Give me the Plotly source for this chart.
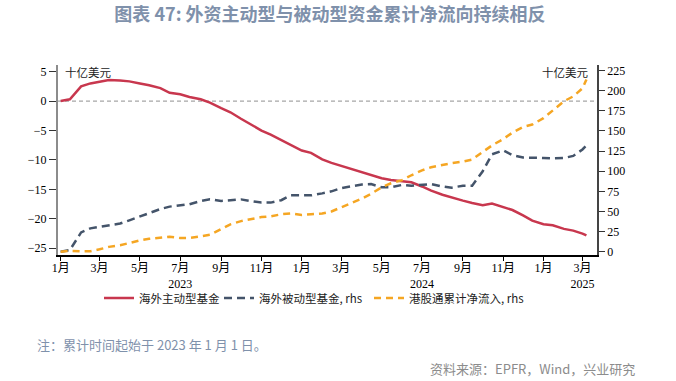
import pandas as pd
import plotly.graph_objects as go

# ---------------- data ----------------
dates = list(pd.date_range("2023-01-01", "2025-03-01", freq="SMS").strftime("%Y-%m-%d")) + ["2025-03-07"]

active_funds = [0, 0.3, 2.5, 3.0, 3.3, 3.6, 3.5, 3.35, 3.0, 2.7,
                2.2, 1.4, 1.15, 0.7, 0.3, -0.25, -1.2, -1.9, -3.0, -3.9,
                -5.0, -5.7, -6.6, -7.5, -8.4, -8.8, -9.9, -10.5, -11.0, -11.4,
                -12.0, -12.5, -13.1, -13.4, -13.6, -13.8, -14.5, -15.2, -15.9, -16.4,
                -16.9, -17.3, -17.7, -17.4, -18.0, -18.5, -19.4, -20.3, -20.9, -21.1,
                -21.7, -22.0, -22.5, -22.8]

passive_funds = [0, 2, 24, 29, 31, 33, 35, 39, 44, 48,
                 53, 56, 58, 59, 63, 65, 63, 64, 65, 63,
                 61, 61, 64, 70, 70.5, 70, 72.5, 75, 79, 81,
                 83.5, 84, 80, 80, 83, 82, 83, 84, 81, 79.6,
                 82, 82, 100, 121, 126, 120, 117, 117, 116.5, 116,
                 116.5, 119, 127, 132]

southbound = [0, 1, 0.5, 0.5, 3, 6, 8, 11, 14, 16,
              17.5, 18.7, 17, 17, 19, 21, 28, 34, 38, 40.5,
              43, 44, 46.5, 47.5, 45.6, 46.5, 47.5, 50, 55, 60,
              66, 72, 80, 85, 89, 95, 101, 105, 108, 110,
              112, 114.5, 124, 132, 140, 148, 155, 158, 166, 176,
              187, 193, 203, 214]

series_names = ["海外主动型基金", "海外被动型基金, rhs", "港股通累计净流入, rhs"]

tick_dates = list(pd.date_range("2023-01-01", "2025-03-01", freq="2MS").strftime("%Y-%m-%d"))
tick_months = [f"{int(d[5:7])}月" for d in tick_dates]
year_labels = {"2023-07-01": "2023", "2024-07-01": "2024", "2025-03-01": "2025"}
tick_text = [m + ("<br>" + year_labels[d] if d in year_labels else "") for d, m in zip(tick_dates, tick_months)]

# ---------------- figure ----------------
RED = "#C8374E"
NAVY = "#44546A"
ORANGE = "#F5A623"
CJK = "Liberation Serif, Noto Sans CJK SC"
PL, PW = 58, 539  # plot-area left edge and width in px (for paper coords)

fig = go.Figure()
fig.add_trace(go.Scatter(x=dates, y=active_funds, name=series_names[0], mode="lines",
                         line=dict(color=RED, width=2.5), yaxis="y", legend="legend"))
fig.add_trace(go.Scatter(x=dates, y=passive_funds, name=series_names[1], mode="lines",
                         line=dict(color=NAVY, width=2.5, dash="8px,5px"), yaxis="y2", legend="legend2"))
fig.add_trace(go.Scatter(x=dates, y=southbound, name=series_names[2], mode="lines",
                         line=dict(color=ORANGE, width=2.5, dash="7px,5px"), yaxis="y2", legend="legend3"))

fig.add_shape(type="line", xref="paper", x0=0, x1=1, yref="y", y0=0, y1=0,
              line=dict(color="#A6A6A6", width=1.2, dash="4px,3px"), layer="below")

leg_common = dict(orientation="h", xanchor="left", y=(255 - 298) / 190, yanchor="middle",
                  font=dict(family="Noto Sans CJK SC, Liberation Sans", size=11.5, color="#222"),
                  itemwidth=30, bgcolor="rgba(0,0,0,0)", borderwidth=0)

fig.update_layout(
    width=676, height=381,
    margin=dict(l=58, r=79, t=65, b=126),
    paper_bgcolor="white", plot_bgcolor="white",
    showlegend=True,
    legend=dict(x=(99 - PL) / PW, **leg_common),
    legend2=dict(x=(219 - PL) / PW, **leg_common),
    legend3=dict(x=(369 - PL) / PW, **leg_common),
    xaxis=dict(type="date", range=["2022-12-28", "2025-03-23"],
               tickvals=tick_dates, ticktext=tick_text,
               ticks="outside", ticklen=4, tickcolor="black", ticklabelstandoff=-3,
               showline=True, linecolor="black", linewidth=1.5,
               showgrid=False, zeroline=False,
               tickfont=dict(family=CJK, size=12, color="black")),
    yaxis=dict(range=[-26.14, 6.13], dtick=5, tick0=0,
               ticks="outside", ticklen=7, tickcolor="#333",
               showline=True, linecolor="#8C8C8C", linewidth=2,
               showgrid=False, zeroline=False,
               tickfont=dict(family=CJK, size=12, color="black")),
    yaxis2=dict(range=[-4.1, 232], dtick=25, tick0=0, overlaying="y", side="right",
                ticks="outside", ticklen=6, tickcolor="#333",
                showline=True, linecolor="#444", linewidth=1.5,
                showgrid=False, zeroline=False,
                tickfont=dict(family=CJK, size=12, color="black")),
    title=dict(text="<b>图表 47: 外资主动型与被动型资金累计净流向持续相反</b>",
               font=dict(family="Noto Sans CJK SC", size=18, color="#7F91AB"),
               xref="container", x=330 / 676, xanchor="center",
               yref="container", y=1 - 15 / 381, yanchor="middle"),
)

fig.add_annotation(text="十亿美元", xref="paper", yref="paper", x=0.01, y=(255 - 72) / 190,
                   xanchor="left", yanchor="middle", showarrow=False,
                   font=dict(family="Noto Sans CJK SC", size=11.5, color="#222"))
fig.add_annotation(text="十亿美元", xref="paper", yref="paper", x=(591 - PL) / PW, y=(255 - 72) / 190,
                   xanchor="right", yanchor="middle", showarrow=False,
                   font=dict(family="Noto Sans CJK SC", size=11.5, color="#222"))
fig.add_annotation(text="注：累计时间起始于 2023 年 1 月 1 日。", xref="paper", yref="paper",
                   x=(35 - PL) / PW, y=(255 - 344.5) / 190, xanchor="left", yanchor="middle",
                   showarrow=False, font=dict(family="Noto Sans CJK SC", size=13, color="#7F91AB"))
fig.add_annotation(text="资料来源：EPFR，Wind，兴业研究", xref="paper", yref="paper",
                   x=(637 - PL) / PW, y=(255 - 368.5) / 190, xanchor="right", yanchor="middle",
                   showarrow=False, font=dict(family="Noto Sans CJK SC", size=13, color="#8C8C8C"))

fig.write_html("out.html", config={"displayModeBar": False},
               post_script="document.body.style.margin='0px';document.body.style.padding='0px';")
